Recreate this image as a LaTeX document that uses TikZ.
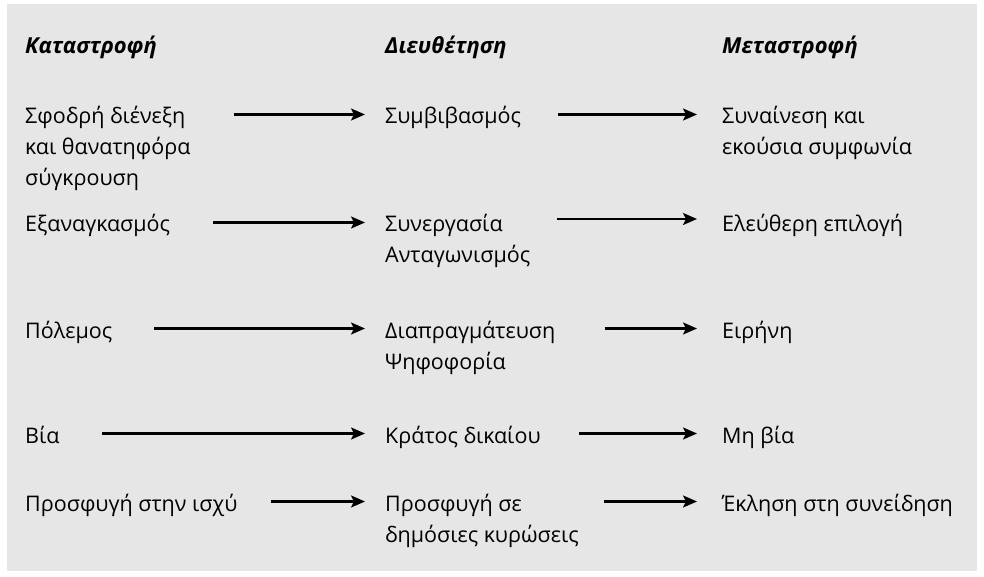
\documentclass[tikz,border=0pt]{standalone}
\usepackage{fontspec}
\setmainfont{Open Sans}
\usetikzlibrary{positioning,arrows.meta}
\definecolor{panelgray}{RGB}{230,230,230}
\newcommand\stack[1]{\begin{tabular}[t]{@{}l@{}}#1\end{tabular}}

\begin{document}
\begin{tikzpicture}[
x=1pt,y=-1pt,
every node/.style={inner sep=0pt,anchor=base west,font=\fontsize{21.5}{31}\selectfont},
head/.style={font=\fontsize{22}{31}\selectfont\bfseries\itshape},
arr/.style={line width=2.3pt,-{Stealth[length=14pt,width=12pt,inset=3pt]}},
]

\useasboundingbox (0,0) rectangle (984,577);
\fill[panelgray] (7,4) rectangle (977,571);

% headers
\node[head] (hk) at (25,54) {Καταστροφή};
\node[head] (hd) at (385,54) {Διευθέτηση};
\node[head] (hm) at (722,54) {Μεταστροφή};

% rows
\node (k1) at (25,124) {\stack{Σφοδρή διένεξη\\και θανατηφόρα\\σύγκρουση}};
\node (d1) at (385,124) {Συμβιβασμός};
\node (m1) at (722,124) {\stack{Συναίνεση και\\εκούσια συμφωνία}};

\node (k2) at (25,232) {Εξαναγκασμός};
\node (d2) at (385,232) {\stack{Συνεργασία\\Ανταγωνισμός}};
\node (m2) at (722,232) {Ελεύθερη επιλογή};

\node (k3) at (25,338) {Πόλεμος};
\node (d3) at (385,338) {\stack{Διαπραγμάτευση\\Ψηφοφορία}};
\node (m3) at (722,338) {Ειρήνη};

\node (k4) at (25,443) {Βία};
\node (d4) at (385,443) {Κράτος δικαίου};
\node (m4) at (722,443) {Μη βία};

\node (k5) at (25,511) {Προσφυγή στην ισχύ};
\node (d5) at (385,511) {\stack{Προσφυγή σε\\δημόσιες κυρώσεις}};
\node (m5) at (722,511) {Έκληση στη συνείδηση};

% arrows
\draw[arr,shorten <=43pt,shorten >=20pt] ([yshift=9.5pt]k1.base east) -- ([yshift=9.5pt]d1.base west);
\draw[arr,shorten <=37pt,shorten >=25pt] ([yshift=9.5pt]d1.base east) -- ([yshift=9.5pt]m1.base west);
\draw[arr,shorten <=43pt,shorten >=20pt] ([yshift=9.5pt]k2.base east) -- ([yshift=9.5pt]d2.base west);
\draw[arr,shorten <=27pt,shorten >=25pt] ([yshift=13pt]d2.base east) -- ([yshift=13pt]m2.base west);
\draw[arr,shorten <=42pt,shorten >=20pt] ([yshift=9.5pt]k3.base east) -- ([yshift=9.5pt]d3.base west);
\draw[arr,shorten <=49pt,shorten >=25pt] ([yshift=9.5pt]d3.base east) -- ([yshift=9.5pt]m3.base west);
\draw[arr,shorten <=42pt,shorten >=20pt] ([yshift=9.5pt]k4.base east) -- ([yshift=9.5pt]d4.base west);
\draw[arr,shorten <=38pt,shorten >=25pt] ([yshift=9.5pt]d4.base east) -- ([yshift=9.5pt]m4.base west);
\draw[arr,shorten <=33pt,shorten >=20pt] ([yshift=9.5pt]k5.base east) -- ([yshift=9.5pt]d5.base west);
\draw[arr,shorten <=25pt,shorten >=25pt] ([yshift=9.5pt]d5.base east) -- ([yshift=9.5pt]m5.base west);

\end{tikzpicture}
\end{document}
